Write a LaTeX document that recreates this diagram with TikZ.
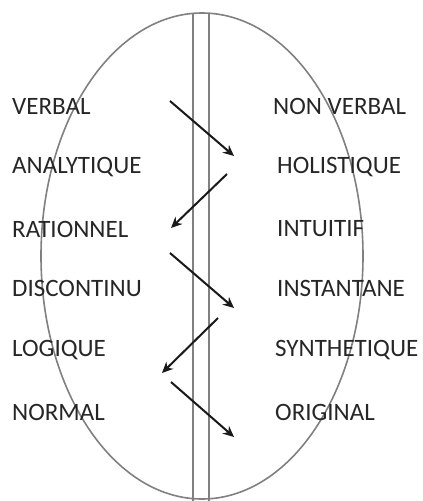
\documentclass[tikz,border=0pt]{standalone}
\usepackage{fontspec}
\setmainfont{Carlito}
\usetikzlibrary{arrows.meta}
\begin{document}
\begin{tikzpicture}[x=1pt,y=-1pt,
  lbl/.style={anchor=west,inner sep=0pt,text=black!85,font=\fontsize{25}{27}\selectfont},
  brain/.style={draw=black!50,line width=1.6pt},
  arr/.style={draw=black!90,line width=2pt,-{Stealth[length=11pt,width=10pt]}}]
\useasboundingbox (0,0) rectangle (423,501);
\draw[brain] (202,256) ellipse [x radius=161, y radius=243];
\draw[brain] (193,13) -- (193,501);
\draw[brain] (209,13) -- (209,501);
% left
\node[lbl] (l1) at (12,106) {VERBAL};
\node[lbl] (l2) at (12,167) {ANALYTIQUE};
\node[lbl] (l3) at (12,229) {RATIONNEL};
\node[lbl] (l4) at (12,288) {DISCONTINU};
\node[lbl] (l5) at (12,350) {LOGIQUE};
\node[lbl] (l6) at (12,412) {NORMAL};
% right
\node[lbl] (r1) at (273,106) {NON VERBAL};
\node[lbl] (r2) at (277,167) {HOLISTIQUE};
\node[lbl] (r3) at (277,229) {INTUITIF};
\node[lbl] (r4) at (277,288) {INSTANTANE};
\node[lbl] (r5) at (275,350) {SYNTHETIQUE};
\node[lbl] (r6) at (275,412) {ORIGINAL};
% arrows
\coordinate (a1s) at (170,101); \coordinate (a1e) at (234,156);
\coordinate (a2s) at (227,174); \coordinate (a2e) at (171,228);
\coordinate (a3s) at (170,253); \coordinate (a3e) at (234,308);
\coordinate (a4s) at (218,318); \coordinate (a4e) at (162,373);
\coordinate (a5s) at (171,382); \coordinate (a5e) at (234,437);
\draw[arr] (a1s) -- (a1e);
\draw[arr] (a2s) -- (a2e);
\draw[arr] (a3s) -- (a3e);
\draw[arr] (a4s) -- (a4e);
\draw[arr] (a5s) -- (a5e);
\end{tikzpicture}
\end{document}
